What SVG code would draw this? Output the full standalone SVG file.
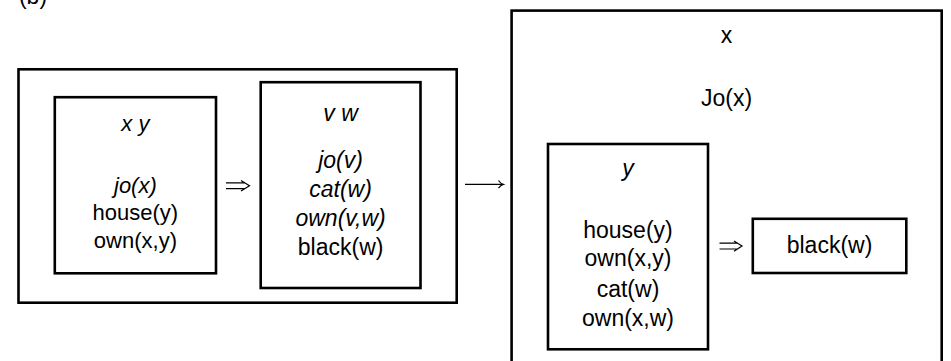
<svg xmlns="http://www.w3.org/2000/svg" width="951" height="361" viewBox="0 0 951 361">
<style>
.box{fill:none;stroke:#000;stroke-width:2.6}
text{font-family:"Liberation Sans","DejaVu Sans",sans-serif;font-size:23px;fill:#000;text-anchor:middle}
.s{font-size:22px}
.i{font-style:italic}
.arr{fill:none;stroke:#000;stroke-width:1.2}
</style>
<text x="33" y="4">(b)</text>
<g id="drs-left-outer">
<rect class="box" x="18.5" y="69.3" width="438.2" height="233.4"/>
</g>
<g id="drs-antecedent">
<rect class="box" x="54.8" y="97.2" width="161.2" height="176.1"/>
<text class="s i" x="135.4" y="131">x y</text>
<text class="s i" x="135.4" y="193">jo(x)</text>
<text class="s" x="135.4" y="220">house(y)</text>
<text class="s" x="135.4" y="248">own(x,y)</text>
</g>
<g id="drs-consequent">
<rect class="box" x="260.7" y="82.2" width="159.8" height="205.8"/>
<text class="i" x="340.6" y="121">v  w</text>
<text class="i" x="340.6" y="168">jo(v)</text>
<text class="i" x="340.6" y="197">cat(w)</text>
<text class="i" x="340.6" y="226">own(v,w)</text>
<text x="340.6" y="255">black(w)</text>
</g>
<g id="drs-right-outer">
<rect class="box" x="511.6" y="10.6" width="430.1" height="360"/>
<text x="726.6" y="43">x</text>
<text x="726.6" y="106">Jo(x)</text>
</g>
<g id="drs-right-antecedent">
<rect class="box" x="548" y="144" width="160" height="205.3"/>
<text class="i" x="628" y="176">y</text>
<text x="628" y="238">house(y)</text>
<text x="628" y="266">own(x,y)</text>
<text x="628" y="297">cat(w)</text>
<text x="628" y="326">own(x,w)</text>
</g>
<g id="drs-right-consequent">
<rect class="box" x="752.8" y="218.8" width="153.5" height="54.2"/>
<text x="829.5" y="253">black(w)</text>
</g>
<g id="connectors">
<path class="arr" d="M226,182.8 H245 M226,188.6 H245 M241,180.5 L249.5,185.7 L241,191"/>
<path class="arr" d="M719.5,243.2 H738 M719.5,249 H738 M734,241 L742,246.1 L734,251.3"/>
<path class="arr" d="M465,184.3 H502.5 M498.5,180.5 Q500.5,183.5 503.3,184.3 Q500.5,185.1 498.5,188.1"/>
</g>
</svg>
